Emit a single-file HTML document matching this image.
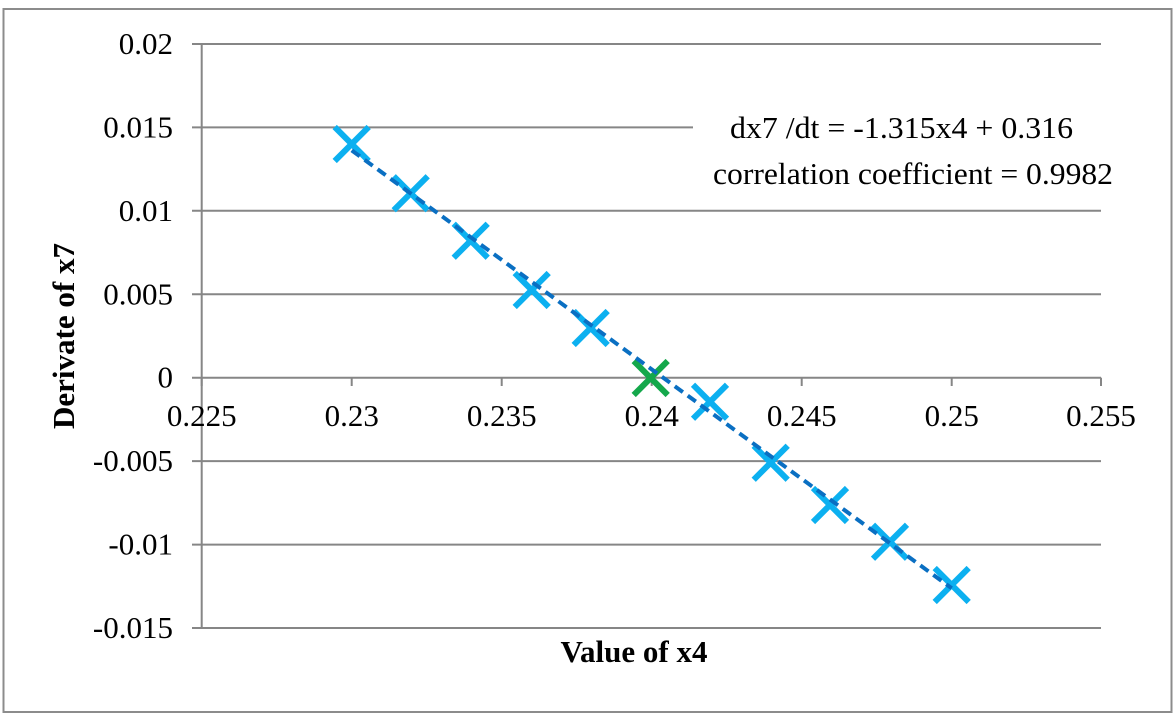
<!DOCTYPE html>
<html>
<head>
<meta charset="utf-8">
<style>
  html,body{margin:0;padding:0;background:#fff;}
  svg{display:block;}
  text{font-family:"Liberation Serif","Times New Roman",serif;fill:#000;}
</style>
</head>
<body>
<svg width="1176" height="714" viewBox="0 0 1176 714" xmlns="http://www.w3.org/2000/svg">
  <rect x="0" y="0" width="1176" height="714" fill="#fff"/>
  <!-- outer border -->
  <rect x="3.5" y="9" width="1168" height="703" fill="none" stroke="#8c8c8c" stroke-width="2"/>

  <!-- gridlines (horizontal) with left ticks -->
  <g stroke="#868686" stroke-width="2">
    <line x1="192" y1="44" x2="1101" y2="44"/>
    <line x1="192" y1="127.4" x2="1101" y2="127.4"/>
    <line x1="192" y1="210.8" x2="1101" y2="210.8"/>
    <line x1="192" y1="294.3" x2="1101" y2="294.3"/>
    <line x1="192" y1="377.7" x2="1101" y2="377.7"/>
    <line x1="192" y1="461.1" x2="1101" y2="461.1"/>
    <line x1="192" y1="544.6" x2="1101" y2="544.6"/>
    <line x1="192" y1="628" x2="1101" y2="628"/>
    <!-- y axis -->
    <line x1="201.7" y1="44" x2="201.7" y2="628"/>
    <!-- x ticks -->
    <line x1="201.7" y1="377.7" x2="201.7" y2="386"/>
    <line x1="351.7" y1="377.7" x2="351.7" y2="386"/>
    <line x1="501.7" y1="377.7" x2="501.7" y2="386"/>
    <line x1="651.7" y1="377.7" x2="651.7" y2="386"/>
    <line x1="801.7" y1="377.7" x2="801.7" y2="386"/>
    <line x1="951.7" y1="377.7" x2="951.7" y2="386"/>
    <line x1="1101" y1="377.7" x2="1101" y2="386"/>
  </g>

  <!-- y tick labels -->
  <g font-size="31" text-anchor="end">
    <text x="173" y="54">0.02</text>
    <text x="173" y="137.4">0.015</text>
    <text x="173" y="220.8">0.01</text>
    <text x="173" y="304.3">0.005</text>
    <text x="173" y="387.7">0</text>
    <text x="173" y="471.1">-0.005</text>
    <text x="173" y="554.6">-0.01</text>
    <text x="173" y="638">-0.015</text>
  </g>

  <!-- x tick labels -->
  <g font-size="31" text-anchor="middle">
    <text x="201.7" y="426">0.225</text>
    <text x="351.7" y="426">0.23</text>
    <text x="501.7" y="426">0.235</text>
    <text x="651.7" y="426">0.24</text>
    <text x="801.7" y="426">0.245</text>
    <text x="951.7" y="426">0.25</text>
    <text x="1101" y="426">0.255</text>
  </g>

  <!-- axis titles -->
  <text x="634" y="662" font-size="31" font-weight="bold" text-anchor="middle">Value of x4</text>
  <text transform="translate(74,336) rotate(-90)" font-size="31" font-weight="bold" text-anchor="middle">Derivate of x7</text>

  <!-- annotation box -->
  <rect x="693" y="108" width="418" height="92" fill="#fff"/>
  <text x="730" y="138" font-size="31" textLength="343" lengthAdjust="spacingAndGlyphs">dx7 /dt = -1.315x4 + 0.316</text>
  <text x="713" y="184" font-size="31" textLength="400" lengthAdjust="spacingAndGlyphs">correlation coefficient = 0.9982</text>

  <!-- markers -->
  <g stroke="#0cb0f0" stroke-width="6" stroke-linecap="butt">
    <path d="M334.7 127 L368.7 161 M334.7 161 L368.7 127"/>
    <path d="M393.7 176.3 L427.7 210.3 M393.7 210.3 L427.7 176.3"/>
    <path d="M453.7 223.7 L487.7 257.7 M453.7 257.7 L487.7 223.7"/>
    <path d="M514.7 273 L548.7 307 M514.7 307 L548.7 273"/>
    <path d="M573.7 311 L607.7 345 M573.7 345 L607.7 311"/>
    <path d="M693 384.7 L727 418.7 M693 418.7 L727 384.7"/>
    <path d="M753.7 445.7 L787.7 479.7 M753.7 479.7 L787.7 445.7"/>
    <path d="M813 488 L847 522 M813 522 L847 488"/>
    <path d="M873 524.7 L907 558.7 M873 558.7 L907 524.7"/>
    <path d="M934.7 568 L968.7 602 M934.7 602 L968.7 568"/>
  </g>
  <g stroke="#14a84b" stroke-width="6" stroke-linecap="butt">
    <path d="M633.7 361 L667.7 395 M633.7 395 L667.7 361"/>
  </g>

  <!-- trend line -->
  <line x1="351.7" y1="150.4" x2="951.7" y2="588.3" stroke="#0a6fc2" stroke-width="4" stroke-dasharray="10 6"/>
</svg>
</body>
</html>
